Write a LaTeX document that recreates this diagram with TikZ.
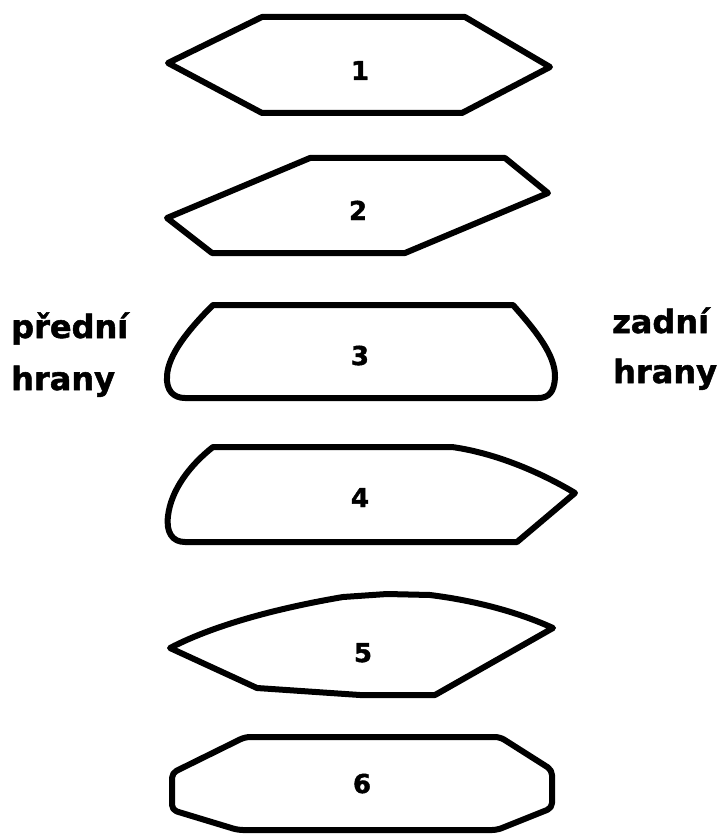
\documentclass[tikz,border=0pt]{standalone}
\usepackage{fontspec}
\setmainfont{DejaVu Sans}
\newfontfamily\heavyfont{DejaVu Sans Bold}[FakeBold=1.6]
\begin{document}
\begin{tikzpicture}[x=1pt,y=-1pt,
  outline/.style={draw=black,line width=6pt,line join=round},
  numlabel/.style={font=\fontsize{26}{26}\selectfont\heavyfont,anchor=base,inner sep=0pt},
  sidelabel/.style={font=\fontsize{32}{32}\selectfont\heavyfont,anchor=base west,inner sep=0pt}]
\useasboundingbox[fill=white] (0,0) rectangle (722,834);

% 1: symmetric hexagon
\draw[outline] (168,63) -- (262,17) -- (465,17) -- (550,67) -- (462,113) -- (262,113) -- cycle;
\node[numlabel] (n1) at (360,80) {1};

% 2: skewed hexagon
\draw[outline] (167,218) -- (310,158) -- (505,158) -- (548,193) -- (405,253) -- (212,253) -- cycle;
\node[numlabel] (n2) at (358,220) {2};

% 3: rounded front and rounded rear edge
\draw[outline] (213,305) -- (513,305)
  .. controls (535,330) and (556,355) .. (555,378)
  .. controls (554,392) and (549,398) .. (538,398)
  -- (185,398)
  .. controls (173,398) and (166,390) .. (167,376)
  .. controls (168,355) and (188,330) .. (213,305) -- cycle;
\node[numlabel] (n3) at (360,365) {3};

% 4: rounded front, pointed rear edge
\draw[outline] (213,447) -- (452,447)
  .. controls (495,453) and (540,472) .. (575,493)
  -- (517,542) -- (185,542)
  .. controls (172,542) and (166,532) .. (168,516)
  .. controls (171,490) and (190,465) .. (213,447) -- cycle;
\node[numlabel] (n4) at (360,507) {4};

% 5: pointed front and rear edges
\draw[outline] (170,648)
  .. controls (220,622) and (290,606) .. (343,597)
  -- (387,594) -- (430,595)
  .. controls (478,601) and (520,613) .. (553,628)
  -- (435,695) -- (360,695) -- (257,688) -- cycle;
\node[numlabel] (n5) at (363,662) {5};

% 6: bevelled octagon
\draw[outline,rounded corners=5pt] (245,737) -- (500,737) -- (552,770) -- (552,808)
  -- (497,830) -- (238,830) -- (172,810) -- (172,773) -- cycle;
\node[numlabel] (n6) at (362,793) {6};

% side captions
\node[sidelabel] (front1) at (11,338) {přední};
\node[sidelabel] (front2) at (11,390) {hrany};
\node[sidelabel] (rear1) at (612,333) {zadní};
\node[sidelabel] (rear2) at (613,383) {hrany};
\end{tikzpicture}
\end{document}
